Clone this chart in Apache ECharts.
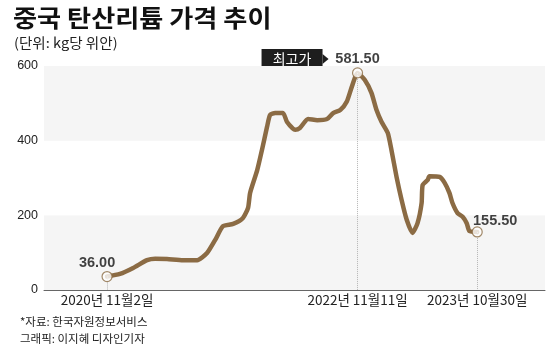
<!DOCTYPE html>
<html><head><meta charset="utf-8">
<script src="https://cdn.jsdelivr.net/npm/echarts@6/dist/echarts.min.js"></script>
<style>html,body{margin:0;padding:0;background:#fff}#c{width:560px;height:359px}</style>
</head><body><div id="c"></div>
<script>
const dates = ['2020-11-02','2020-12-10','2021-01-18','2021-02-28','2021-03-24','2021-04-28','2021-06-14','2021-07-26','2021-08-24','2021-09-17','2021-10-10','2021-11-09','2021-12-08','2021-12-23','2021-12-29','2022-01-19','2022-02-02','2022-02-17','2022-02-26','2022-03-13','2022-04-05','2022-04-17','2022-05-11','2022-05-25','2022-06-18','2022-07-15','2022-08-13','2022-08-31','2022-09-21','2022-10-10','2022-10-25','2022-11-11','2022-12-02','2022-12-22','2023-01-06','2023-01-21','2023-02-08','2023-02-19','2023-03-06','2023-03-21','2023-04-05','2023-04-22','2023-05-07','2023-05-19','2023-05-22','2023-06-06','2023-06-11','2023-07-11','2023-07-26','2023-08-09','2023-08-18','2023-09-02','2023-09-17','2023-09-29','2023-10-07','2023-10-30'];
const prices = [36.0,43,59,80,84,83,80,80,99,134,171,177,193,220,260,321,375,437,469,474,474,450,429,434,458,455,458,474,482,504,544,581.5,563,528,482,450,421,375,303,241,188,153,179,233,281,295,305,303,287,260,233,206,196,179,158,155.5];
const tickDates = ['2020-11-02','2022-11-11','2023-10-30'];
const tickLabels = ['2020년 11월2일','2022년 11월11일','2023년 10월30일'];
const yTicks = [0,200,400,600];
const markDates = ['2020-11-02','2022-11-11','2023-10-30'];
const markValues = [36.00,581.50,155.50];
const markTexts = ['36.00','581.50','155.50'];
const peakTag = '최고가';

const LINE = '#8b6b44';
const FONT = "'Liberation Sans','Noto Sans CJK KR',sans-serif";
const KFONT = "'Noto Sans CJK KR','Liberation Sans',sans-serif";
const ts = d => new Date(d + 'T00:00:00Z').getTime();
const tickTs = tickDates.map(ts);

const chart = echarts.init(document.getElementById('c'), null, {renderer:'canvas'});
const labelOffsets = [[-10,3],[0,3],[18,6]];
const option = {
  animation:false,
  backgroundColor:'#fff',
  grid:{left:44,right:15,top:66,bottom:69,containLabel:false},
  xAxis:{
    type:'value',
    min: ts('2020-04-30'), max: ts('2024-05-17'),
    axisLine:{show:true,lineStyle:{color:'#666',width:1}},
    axisTick:{show:false},
    splitLine:{show:false},
    axisLabel:{
      customValues: tickTs,
      formatter: v => { const i = tickTs.indexOf(v); return i>=0 ? tickLabels[i] : ''; },
      color:'#222', fontSize:13.5, fontFamily:KFONT, margin:3, hideOverlap:false
    }
  },
  yAxis:{
    type:'value', min:yTicks[0], max:yTicks[yTicks.length-1], interval:200,
    axisLine:{show:false}, axisTick:{show:false},
    splitLine:{show:false},
    splitArea:{show:true, areaStyle:{color:['#f5f5f5','#ffffff']}},
    axisLabel:{color:'#222', fontSize:12.5, fontFamily:FONT, margin:6}
  },
  series:[
    {
      type:'line', data: dates.map((d,i)=>[ts(d),prices[i]]),
      showSymbol:false, symbol:'none', smooth:0.2,
      lineStyle:{color:LINE,width:4.5,cap:'round',join:'round'},
      z:2,
      markLine:{
        silent:true, symbol:'none',
        lineStyle:{type:'dotted',color:'#b5b5b5',width:1},
        label:{show:false},
        data: markDates.map((d,i)=>[{coord:[ts(d),markValues[i]]},{coord:[ts(d),0]}])
      }
    },
    {
      type:'scatter', z:5,
      data: markDates.map((d,i)=>({
        value:[ts(d),markValues[i]],
        label:{show:true, formatter:markTexts[i], position:'top', offset:labelOffsets[i]}
      })),
      symbol:'circle', symbolSize:10,
      itemStyle:{color:'#fff',borderColor:LINE,borderWidth:1.2},
      label:{color:'#111',fontSize:14.5,fontWeight:'bold',fontFamily:FONT,distance:4}
    }
  ],
  graphic:[
    {type:'text', x:13, y:6, scaleX:1.09, style:{text:'중국 탄산리튬 가격 추이', font:"bold 24px "+KFONT, fill:'#111'}},
    {type:'text', x:14, y:36, scaleX:1.08, style:{text:'(단위: kg당 위안)', font:"13.5px "+KFONT, fill:'#222'}},
    {type:'text', x:20, y:316, style:{text:'*자료: 한국자원정보서비스', font:"11.5px "+KFONT, fill:'#222'}},
    {type:'text', x:20, y:333, style:{text:'그래픽: 이지혜 디자인기자', font:"11.5px "+KFONT, fill:'#222'}}
  ]
};
chart.setOption(option);
const pk = chart.convertToPixel({gridIndex:0},[ts(markDates[1]),markValues[1]]);
const bx = pk[0]-96, by = pk[1]-24;
chart.setOption({graphic: option.graphic.concat([
  {type:'rect', shape:{x:bx,y:by,width:61,height:20}, style:{fill:'#1e1e1e'}},
  {type:'polygon', shape:{points:[[bx+61,by+5],[bx+67,by+10],[bx+61,by+15]]}, style:{fill:'#1e1e1e'}},
  {type:'text', x:bx+30.5, y:by+10, style:{text:peakTag, font:"14px "+KFONT, fill:'#fff', align:'center', verticalAlign:'middle'}}
])});
</script></body></html>
